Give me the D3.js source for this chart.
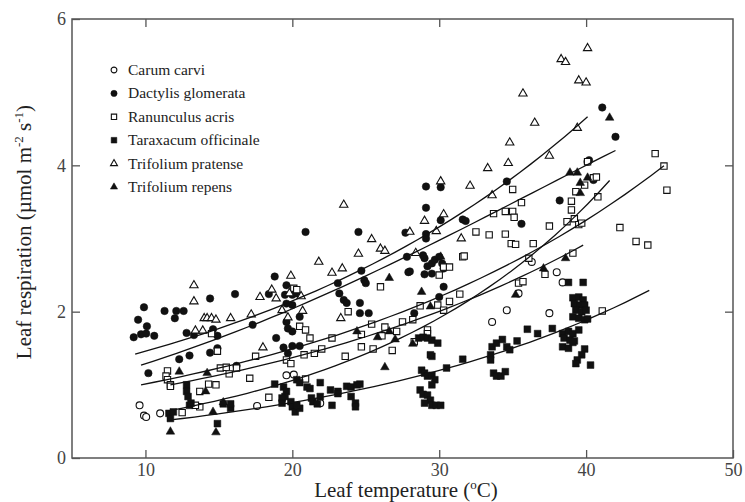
<!DOCTYPE html>
<html>
<head>
<meta charset="utf-8">
<script src="https://cdn.jsdelivr.net/npm/d3@7"></script>
<style>
  body { margin: 0; background: #fff; }
  svg { display: block; font-family: "Liberation Serif", "DejaVu Serif", serif; }
</style>
</head>
<body>
<div id="chart"></div>
<script>
// leaf temperature (C), leaf respiration (umol m-2 s-1) per species
const carumCarvi = [
  [9.6,0.72],[9.9,0.58],[10.05,0.56],[11.0,0.61],[17.6,0.71],[19.6,1.13],[20.1,1.14],[21.9,0.75],
  [33.6,1.86],[34.6,2.02],[37.5,1.98],[35.4,2.25],[36.3,2.68],[38.0,2.54],[38.4,2.40],[40.1,4.05]
];
const dactylisGlomerata = [
  [9.2,1.65],[9.5,1.89],[9.9,2.06],[9.7,1.69],[10.05,1.70],[10.1,1.80],[10.6,1.67],[10.2,1.16],
  [11.3,2.01],[12.0,1.91],[12.1,2.01],[12.6,2.01],[12.8,1.71],[13.3,1.68],[12.3,1.35],[13.0,1.40],
  [14.4,2.18],[14.6,1.76],[14.4,1.44],[14.9,1.67],[14.9,1.50],[16.1,2.24],[16.2,1.26],[17.3,1.82],
  [18.8,2.48],[19.6,2.36],[18.4,2.24],[19.5,2.23],[20.0,2.23],[20.3,2.25],[19.6,2.11],[20.0,2.09],
  [19.6,1.86],[19.7,1.77],[20.0,1.73],[20.5,1.93],[18.9,1.64],[19.4,1.51],[20.0,1.53],[20.5,1.53],
  [19.7,1.43],[20.9,3.09],[23.1,2.39],[23.2,2.25],[23.5,2.16],[23.7,2.12],[24.7,2.56],[24.9,2.43],
  [25.0,2.39],[24.6,2.12],[24.6,1.98],[25.2,1.98],[24.5,3.09],[27.7,3.08],[27.8,2.75],[28.0,2.55],
  [27.9,2.54],[28.3,1.98],[29.0,2.73],[29.2,2.62],[29.5,2.66],[29.7,2.71],[30.0,2.75],[30.2,2.66],
  [30.3,2.59],[29.5,2.52],[30.3,2.34],[30.0,2.20],[28.9,2.77],[29.0,2.51],[29.1,3.71],[30.1,3.70],
  [29.1,3.42],[29.1,3.06],[29.1,3.00],[30.1,3.25],[31.6,3.26],[31.8,3.24],[34.6,3.78],[38.2,3.52],
  [35.6,3.20],[41.1,4.79],[42.0,4.39],[40.2,4.07],[40.5,3.80]
];
const ranunculusAcris = [
  [11.5,1.19],[11.4,1.12],[11.5,1.07],[11.7,1.00],[11.7,0.98],[12.5,0.62],[13.7,0.91],[14.3,1.01],
  [14.8,1.00],[14.5,1.70],[14.9,1.46],[13.7,0.70],[13.4,0.72],[15.1,1.23],[15.5,1.24],[15.7,1.15],
  [16.2,1.23],[17.1,1.09],[17.5,1.39],[18.4,0.83],[19.6,1.34],[19.9,1.29],[20.1,2.32],[20.3,2.30],
  [20.5,1.80],[20.9,1.75],[21.2,1.64],[23.8,2.00],[26.0,2.34],[22.0,1.49],[21.5,1.43],[20.8,1.41],
  [22.7,1.64],[25.4,1.83],[26.3,1.79],[27.1,1.73],[24.7,1.52],[25.5,1.49],[26.8,1.47],[23.6,1.39],
  [27.5,1.86],[28.2,1.89],[28.7,2.08],[28.3,1.59],[29.2,1.75],[29.2,1.70],[29.9,2.09],[30.3,2.02],
  [30.7,2.14],[31.4,2.24],[30.0,2.50],[30.3,2.61],[30.7,2.61],[31.6,2.75],[24.7,1.69],[26.1,1.67],
  [20.9,1.08],[35.0,3.67],[35.6,3.49],[33.7,3.34],[34.5,3.37],[35.0,3.37],[35.1,3.29],[32.5,3.09],
  [33.4,3.05],[34.5,3.06],[34.9,2.93],[35.2,2.92],[31.7,2.76],[36.4,2.93],[36.1,2.73],[37.5,3.17],
  [38.7,3.23],[39.2,3.27],[39.5,3.19],[39.7,3.21],[39.0,3.51],[39.0,3.39],[39.3,3.64],[39.9,3.73],
  [40.1,4.05],[40.5,3.83],[40.7,3.84],[40.8,3.57],[39.1,2.80],[42.3,3.15],[43.4,2.96],[44.2,2.91],
  [44.7,4.16],[45.3,3.99],[45.5,3.66],[35.4,2.39],[35.7,2.41],[37.2,2.51],[41.1,2.01]
];
const taraxacumOfficinale = [
  [11.6,0.61],[11.7,0.54],[11.9,0.63],[12.8,1.00],[12.8,0.91],[12.9,0.84],[13.0,0.72],[13.1,0.75],
  [14.9,0.47],[15.3,0.74],[15.8,0.68],[15.8,0.74],[18.8,1.01],[19.4,0.97],[19.6,0.91],[19.5,0.84],
  [19.3,0.82],[19.3,0.75],[19.9,0.77],[20.0,0.70],[20.2,0.63],[20.5,0.68],[20.3,0.72],[20.3,1.07],
  [20.5,1.03],[21.0,0.97],[21.2,0.95],[21.3,0.82],[21.4,0.77],[21.9,0.84],[21.9,1.03],[21.7,0.74],
  [22.7,0.72],[22.6,0.93],[23.1,0.91],[23.1,0.88],[23.7,0.98],[24.0,0.97],[24.4,1.00],[24.6,1.01],
  [24.0,0.84],[24.3,0.75],[24.3,0.70],[28.6,1.64],[28.9,1.65],[29.2,1.64],[29.5,1.61],[29.9,1.57],
  [29.5,1.39],[29.4,1.41],[28.8,1.20],[29.0,1.16],[29.2,1.12],[29.5,1.13],[29.7,1.07],[29.5,1.00],
  [28.7,0.93],[28.9,0.87],[29.2,0.86],[29.4,0.79],[29.0,0.75],[29.5,0.72],[29.8,0.72],[30.1,0.72],
  [30.5,1.23],[31.6,1.35],[33.6,1.52],[33.9,1.57],[33.7,1.16],[33.9,1.12],[33.5,1.41],[33.5,1.34],
  [34.2,1.12],[34.5,1.18],[34.3,1.62],[34.6,1.52],[34.8,1.48],[35.3,1.60],[36.0,1.76],[36.7,1.70],
  [37.7,1.77],[38.8,2.40],[39.8,2.40],[39.1,2.19],[39.5,2.20],[39.8,2.16],[39.2,2.11],[39.6,2.09],
  [39.9,2.09],[39.3,2.02],[39.7,2.00],[40.0,2.02],[39.1,1.93],[39.5,1.91],[39.9,1.89],[40.1,1.90],
  [38.4,1.70],[38.8,1.73],[39.1,1.70],[39.5,1.75],[38.5,1.64],[38.9,1.61],[39.2,1.60],[38.4,1.52],
  [38.8,1.50],[39.1,1.58],[39.9,1.49],[39.7,1.41],[39.4,1.34],[39.3,1.29],[40.3,1.27]
];
const trifoliumPratense = [
  [13.3,2.36],[13.3,2.14],[13.4,1.74],[13.9,1.74],[14.0,1.91],[14.2,1.91],[14.5,1.91],[14.8,1.89],
  [15.8,1.91],[17.2,1.96],[17.8,2.20],[18.6,2.30],[18.9,2.18],[19.8,2.25],[19.7,1.92],[20.6,2.21],
  [19.3,2.02],[20.7,2.01],[18.0,1.51],[19.9,2.49],[21.8,2.68],[22.7,2.53],[23.4,2.59],[23.3,1.91],
  [23.5,3.46],[24.5,2.79],[25.4,2.99],[26.0,2.86],[26.3,2.83],[28.0,3.09],[28.4,2.80],[29.0,3.24],
  [29.8,3.10],[30.1,3.78],[30.3,3.33],[31.5,3.00],[32.1,3.72],[33.3,3.96],[33.6,3.59],[34.7,4.03],
  [34.8,4.31],[35.7,4.98],[36.5,4.58],[37.5,4.13],[38.3,5.45],[38.6,5.41],[39.4,4.51],[39.5,5.16],
  [40.0,5.13],[40.1,5.60]
];
const trifoliumRepens = [
  [11.7,0.36],[12.3,1.18],[14.2,1.16],[14.1,0.91],[14.6,0.63],[14.8,0.35],[15.3,0.76],[24.4,1.73],
  [25.8,1.65],[26.6,1.73],[27.0,1.62],[26.3,1.24],[28.2,1.56],[26.6,2.46],[28.8,2.27],[29.4,2.07],
  [30.1,2.75],[35.2,2.23],[37.1,2.59],[38.6,2.73],[38.9,3.90],[39.4,3.90],[40.1,3.83],[39.6,3.62],
  [39.6,3.76],[41.6,4.65]
];

const speciesNames = ['Carum carvi', 'Dactylis glomerata', 'Ranunculus acris',
  'Taraxacum officinale', 'Trifolium pratense', 'Trifolium repens'];

// fitted curves: ln R = lnR0 + slope*(T - start) + curve*(T - start)^2
const fitStart = [11.7, 9.7, 9.7, 11.7, 9.3, 11.7];
const fitEnd   = [41.6, 42.0, 45.3, 44.3, 40.1, 39.8];
const fitLnR0  = [-0.431, 0.239, 0.0, -0.654, 0.351, 0.0];
const fitSlope = [0.059, 0.0502, 0.0389, 0.0455, 0.0386, 0.038];
const fitCurve = [0, -0.000407, 0, 0, 0, 0];

const xTicks = [10, 20, 30, 40, 50];
const yTicks = [0, 2, 4, 6];

const width = 745, height = 502;
const margin = {top: 19, right: 12, bottom: 44, left: 72};

const svg = d3.select('#chart').append('svg')
  .attr('width', width)
  .attr('height', height);

svg.append('rect').attr('width', width).attr('height', height).attr('fill', '#fff');

const x = d3.scaleLinear().domain([5, 50]).range([margin.left, width - margin.right]);
const y = d3.scaleLinear().domain([0, 6]).range([height - margin.bottom, margin.top]);

const axisColor = '#555';
const ink = '#111';

function styleAxis(g) {
  g.select('.domain').remove();
  g.selectAll('.tick line').attr('stroke', axisColor).attr('stroke-width', 1.3);
  g.selectAll('.tick text').attr('fill', '#444').style('font-size', '18px')
    .style('font-family', '"Liberation Serif", serif');
}

svg.append('g')
  .attr('transform', `translate(0,${y(0)})`)
  .call(d3.axisBottom(x).tickValues(xTicks).tickSize(-8).tickPadding(5).tickFormat(d3.format('d')))
  .call(styleAxis);

svg.append('g')
  .attr('transform', `translate(${x(5)},0)`)
  .call(d3.axisLeft(y).tickValues(yTicks).tickSize(-8).tickPadding(6).tickFormat(d3.format('d')))
  .call(styleAxis);

svg.append('g')
  .attr('transform', `translate(0,${y(6)})`)
  .call(d3.axisTop(x).tickValues(xTicks.slice(0, -1)).tickSize(-8).tickFormat(''))
  .call(styleAxis);

svg.append('g')
  .attr('transform', `translate(${x(50)},0)`)
  .call(d3.axisRight(y).tickValues([2, 4]).tickSize(-8).tickFormat(''))
  .call(styleAxis);

svg.append('rect')
  .attr('x', x(5)).attr('y', y(6))
  .attr('width', x(50) - x(5)).attr('height', y(0) - y(6))
  .attr('fill', 'none').attr('stroke', axisColor).attr('stroke-width', 1.5);

// axis titles
const xTitle = svg.append('text')
  .attr('x', 406).attr('y', 497)
  .attr('text-anchor', 'middle')
  .style('font-size', '21px').attr('fill', '#222');
xTitle.append('tspan').text('Leaf temperature (');
xTitle.append('tspan').attr('dy', -8).style('font-size', '13px').text('o');
xTitle.append('tspan').attr('dy', 8).text('C)');

const yTitle = svg.append('text')
  .attr('transform', 'translate(31,232) rotate(-90)')
  .attr('text-anchor', 'middle')
  .style('font-size', '21px').attr('fill', '#222');
yTitle.append('tspan').text('Leaf respiration (\u00b5mol m');
yTitle.append('tspan').attr('dy', -8).style('font-size', '13px').text('-2');
yTitle.append('tspan').attr('dy', 8).text(' s');
yTitle.append('tspan').attr('dy', -8).style('font-size', '13px').text('-1');
yTitle.append('tspan').attr('dy', 8).text(')');

const series = [
  {data: carumCarvi, symbol: d3.symbolCircle, size: 38, filled: false},
  {data: dactylisGlomerata, symbol: d3.symbolCircle, size: 44, filled: true},
  {data: ranunculusAcris, symbol: d3.symbolSquare, size: 40, filled: false},
  {data: taraxacumOfficinale, symbol: d3.symbolSquare, size: 46, filled: true},
  {data: trifoliumPratense, symbol: d3.symbolTriangle, size: 30, filled: false},
  {data: trifoliumRepens, symbol: d3.symbolTriangle, size: 32, filled: true}
];

const plot = svg.append('g');

series.forEach(s => {
  plot.append('g').selectAll('path')
    .data(s.data)
    .join('path')
    .attr('transform', d => `translate(${x(d[0])},${y(d[1])})`)
    .attr('d', d3.symbol(s.symbol, s.size))
    .attr('fill', s.filled ? ink : '#fff')
    .attr('stroke', ink)
    .attr('stroke-width', s.filled ? 0.5 : 1.1);
});

// fitted exponential curves
const line = d3.line().x(d => x(d[0])).y(d => y(d[1]));
fitStart.forEach((t0, i) => {
  const pts = d3.range(0, 41).map(k => {
    const t = t0 + (fitEnd[i] - t0) * k / 40;
    const u = t - t0;
    return [t, Math.exp(fitLnR0[i] + fitSlope[i] * u + fitCurve[i] * u * u)];
  });
  plot.append('path')
    .attr('d', line(pts))
    .attr('fill', 'none')
    .attr('stroke', ink)
    .attr('stroke-width', 1.3);
});

// legend
const legend = svg.append('g').attr('transform', 'translate(114,70)');
speciesNames.forEach((name, i) => {
  const row = legend.append('g').attr('transform', `translate(0,${i * 23.4})`);
  row.append('path')
    .attr('d', d3.symbol(series[i].symbol, series[i].size * 0.7))
    .attr('fill', series[i].filled ? ink : '#fff')
    .attr('stroke', ink)
    .attr('stroke-width', series[i].filled ? 0.5 : 1.1);
  row.append('text')
    .attr('x', 14).attr('y', 5)
    .style('font-size', '15.5px')
    .attr('fill', '#222')
    .text(name);
});
</script>
</body>
</html>
